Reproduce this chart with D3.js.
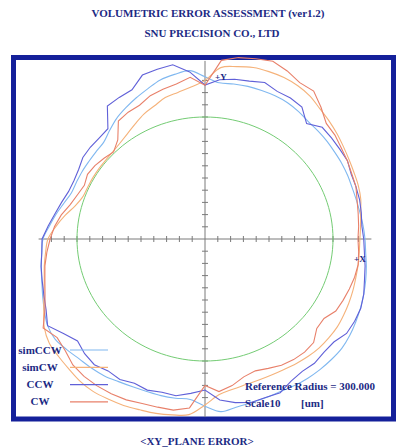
<!DOCTYPE html>
<html><head><meta charset="utf-8">
<script src="https://cdn.jsdelivr.net/npm/d3@7"></script>
<style>
body{margin:0;background:#fff}
svg{display:block}
text{font-family:"Liberation Serif","Times New Roman",serif;font-weight:bold;fill:#1c2a84;font-size:11px}
</style>
</head><body><svg id="c" width="396" height="448"></svg>
<script>
// angle (deg) of each sample, radius values in scale divisions
const angles = [0,5,10,15,20,25,30,35,40,45,50,55,60,65,70,75,80,85,90,95,100,105,110,115,120,125,130,135,140,145,150,155,160,165,170,175,
  180,185,190,195,200,205,210,215,220,225,230,235,240,245,250,255,260,265,270,275,280,285,290,295,300,305,310,315,320,325,330,335,340,345,350,355];
const refRadius = 10;
const CW = [11.95,12.05,12.15,12.3,12.55,12.65,12.84,13.0,13.25,13.4,14.1,14.8,14.8,15.2,15.5,15.3,15.1,14.7,12.6,13.3,12.9,12.7,12.5,12.1,12.0,11.8,10.6,10.1,10.3,10.5,10.6,10.4,10.6,10.9,11.4,11.8,
  12.1,12.4,12.7,12.95,13.3,13.8,14.6,14.1,14.25,14.6,14.7,14.7,14.65,14.55,14.35,14.27,14.24,13.9,12.0,12.55,12.2,11.7,11.5,11.7,11.95,12.07,12.1,12.0,11.4,11.35,11.8,11.9,12.0,12.1,12.15,12.05];
const simCW = [12.1,12.2,12.35,12.6,12.75,12.85,13.0,13.2,13.45,13.7,13.95,14.3,14.5,14.6,14.6,14.55,14.35,14.1,13.0,12.5,12.2,12.0,11.6,11.3,10.9,10.55,10.3,10.15,10.1,10.1,10.1,10.1,10.15,10.5,11.1,11.7,
  12.27,12.5,12.75,13.0,13.4,13.9,14.5,14.86,14.95,15.05,15.2,15.25,15.15,15.05,14.9,14.8,14.64,14.45,13.6,12.8,12.5,12.35,12.3,12.3,12.35,12.45,12.55,12.62,12.62,12.6,12.5,12.4,12.3,12.2,12.15,12.1];
const CCW = [12.4,12.3,12.4,12.5,12.55,12.6,12.85,12.85,12.9,12.95,12.35,13.2,13.35,13.35,13.65,13.4,13.3,13.1,12.62,13.75,14.5,14.4,14.3,13.5,13.4,13.3,11.8,11.7,11.7,11.65,11.4,11.3,11.35,11.6,11.9,12.3,
  12.73,12.8,13.0,13.17,13.4,13.7,14.2,13.5,13.0,13.3,13.45,13.2,13.3,13.05,13.18,13.0,13.05,12.7,12.38,13.25,13.62,13.88,13.83,13.9,13.45,13.25,13.3,13.13,13.14,13.5,13.5,13.43,13.2,12.9,12.7,12.5];
const simCCW = [12.5,12.4,12.3,12.25,12.24,12.3,12.35,12.38,12.45,12.5,12.56,12.75,12.9,12.95,12.95,12.95,12.9,12.85,13.3,13.85,13.7,13.5,13.1,12.75,12.4,12.05,11.6,11.2,11.12,11.08,11.08,11.07,11.1,11.4,11.8,12.2,
  12.66,12.8,13.0,13.2,13.5,13.85,14.2,14.3,14.1,13.9,13.8,13.7,13.5,13.37,13.3,13.29,13.25,13.2,13.7,14.2,14.0,13.9,13.85,13.82,13.9,13.95,13.97,13.97,13.95,13.8,13.6,13.4,13.2,13.0,12.8,12.6];
const seriesNames = ["simCCW","simCW","CCW","CW"];
const seriesColors = ["#80b8f0","#f5b27a","#6060d8","#e8806a"];
const xTicks = [-12,-11,-10,-9,-8,-7,-6,-5,-4,-3,-2,-1,1,2,3,4,5,6,7,8,9,10,11,12];
const yTicks = [-13,-12,-11,-10,-9,-8,-7,-6,-5,-4,-3,-2,-1,1,2,3,4,5,6,7,8,9,10,11,12,13];
const titleLines = ["VOLUMETRIC ERROR ASSESSMENT (ver1.2)","SNU PRECISION CO., LTD"];
const footer = "<XY_PLANE ERROR>";
const infoText = "Reference Radius = 300.000";

const svg = d3.select("#c");
const x = d3.scaleLinear().domain([-15,15]).range([13,397]);
const y = d3.scaleLinear().domain([-15,15]).range([422,56]);
const rad = a => a*Math.PI/180;
const pts = arr => arr.map((r,i)=>[r*Math.cos(rad(angles[i])), r*Math.sin(rad(angles[i]))]);
const line = d3.line().x(d=>x(d[0])).y(d=>y(d[1]));

// titles
svg.append("text").attr("x",208).attr("y",17).attr("text-anchor","middle").text(titleLines[0]);
svg.append("text").attr("x",212).attr("y",37).attr("text-anchor","middle").text(titleLines[1]);
svg.append("text").attr("x",197).attr("y",445).attr("text-anchor","middle").text(footer);

// frame
svg.append("rect").attr("x",13.5).attr("y",57.5).attr("width",380).attr("height",361.5)
  .attr("fill","#fff").attr("stroke","#14209a").attr("stroke-width",5);

// axes
const g = svg.append("g").attr("stroke","#7a7a7a").attr("stroke-width",1);
g.append("line").attr("x1",x(-13)).attr("x2",x(13)).attr("y1",y(0)).attr("y2",y(0));
g.append("line").attr("x1",x(0)).attr("x2",x(0)).attr("y1",y(14.6)).attr("y2",y(-14.6));
g.selectAll(".xt").data(xTicks).join("line").attr("x1",d=>x(d)).attr("x2",d=>x(d)).attr("y1",y(0)-3).attr("y2",y(0)+3);
g.selectAll(".yt").data(yTicks).join("line").attr("y1",d=>y(d)).attr("y2",d=>y(d)).attr("x1",x(0)-3).attr("x2",x(0)+3);

// reference circle
const circ = angles.map(a=>[refRadius*Math.cos(rad(a)), refRadius*Math.sin(rad(a))]);
svg.append("path").attr("d",line.curve(d3.curveCardinalClosed)(circ)).attr("fill","none").attr("stroke","#74cc74").attr("stroke-width",1);

// series
const data = [simCCW, simCW, CCW, CW];
data.forEach((arr,i)=>{
  const smooth = i<2;
  svg.append("path").attr("d", line.curve(smooth?d3.curveCatmullRomClosed:d3.curveLinearClosed)(pts(arr)))
    .attr("fill","none").attr("stroke",seriesColors[i]).attr("stroke-width",1.1);
});

// axis labels
svg.append("text").attr("x",215).attr("y",80).style("font-size","9px").text("+Y");
svg.append("text").attr("x",354).attr("y",262).style("font-size","9px").text("+X");

// legend
seriesNames.forEach((n,i)=>{
  const yy = 350 + i*17.3;
  svg.append("text").attr("x",40).attr("y",yy+3.5).attr("text-anchor","middle").text(n);
  svg.append("line").attr("x1",70).attr("x2",108).attr("y1",yy).attr("y2",yy).attr("stroke",seriesColors[i]).attr("stroke-width",1.2);
});

// info
svg.append("text").attr("x",245).attr("y",390).text(infoText);
svg.append("text").attr("x",245).attr("y",407).text("Scale10");
svg.append("text").attr("x",301).attr("y",407).text("[um]");
</script>
</body></html>
